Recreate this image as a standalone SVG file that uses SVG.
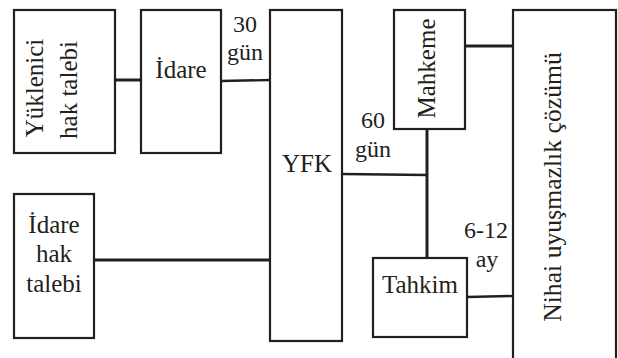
<svg xmlns="http://www.w3.org/2000/svg" width="618" height="358" viewBox="0 0 618 358">
<style>
.box{fill:#fff;stroke:#231f20;stroke-width:2.2}
.c{stroke:#231f20;stroke-width:3;fill:none}
.c2{stroke:#231f20;stroke-width:2.4;fill:none}
text{fill:#231f20;font-size:25px;font-family:'Liberation Serif'}
.m{text-anchor:middle}
.l{font-size:24px;text-anchor:middle}
</style>
<rect width="618" height="358" fill="#fff"/>
<g id="connectors">
<line class="c" x1="115" y1="80" x2="141" y2="80"/>
<line class="c2" x1="221" y1="81" x2="270" y2="80"/>
<line class="c" x1="94" y1="260" x2="270" y2="260"/>
<line class="c2" x1="342" y1="174" x2="427" y2="175"/>
<line class="c" x1="427" y1="129" x2="427" y2="258"/>
<line class="c" x1="465" y1="46" x2="513" y2="46"/>
<line class="c2" x1="467" y1="297" x2="513" y2="296"/>
</g>
<g id="yuklenici">
<rect class="box" x="14" y="10" width="101" height="143"/>
<text class="m" transform="translate(43,88) rotate(-90)">Yüklenici</text>
<text class="m" transform="translate(77,90) rotate(-90)">hak talebi</text>
</g>
<g id="idare">
<rect class="box" x="141" y="10" width="80" height="143"/>
<text class="m" x="181" y="78">İdare</text>
</g>
<g id="idare-hak">
<rect class="box" x="14" y="194" width="80" height="144"/>
<text class="m" x="54" y="233">İdare</text>
<text class="m" x="54" y="262">hak</text>
<text class="m" x="54" y="292">talebi</text>
</g>
<g id="yfk">
<rect class="box" x="270" y="10" width="72" height="331"/>
<text class="m" x="307" y="172">YFK</text>
</g>
<g id="mahkeme">
<rect class="box" x="394" y="10" width="71" height="119"/>
<text class="m" transform="translate(435,68.5) rotate(-90)">Mahkeme</text>
</g>
<g id="tahkim">
<rect class="box" x="373" y="258" width="94" height="79"/>
<text class="m" x="420" y="293">Tahkim</text>
</g>
<g id="nihai">
<rect class="box" x="513" y="10" width="103" height="360"/>
<text class="m" transform="translate(561,187) rotate(-90)" style="font-size:25.7px">Nihai uyuşmazlık çözümü</text>
</g>
<g id="labels">
<text class="l" x="245" y="32">30</text>
<text class="l" x="245" y="60">gün</text>
<text class="l" x="373" y="128">60</text>
<text class="l" x="373" y="157">gün</text>
<text class="l" x="486" y="238">6-12</text>
<text class="l" x="487" y="267">ay</text>
</g>
</svg>
